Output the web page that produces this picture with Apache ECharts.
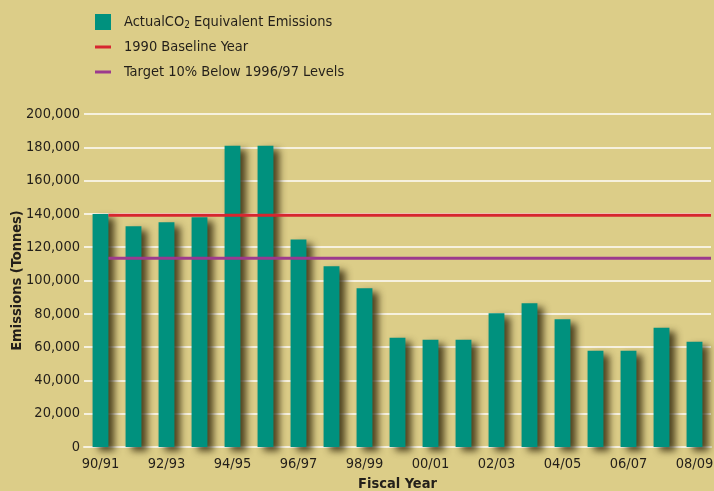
<!DOCTYPE html>
<html><head><meta charset="utf-8">
<script src="https://cdn.jsdelivr.net/npm/echarts@6/dist/echarts.min.js"></script>
<style>html,body{margin:0;padding:0;background:#dccd88}#c{width:714px;height:491px}</style>
</head><body><div id="c"></div>
<script>
const categories = ['90/91','91/92','92/93','93/94','94/95','95/96','96/97','97/98','98/99','99/00','00/01','01/02','02/03','03/04','04/05','05/06','06/07','07/08','08/09'];
const emissions = [140000,132600,135000,138000,181000,181000,124600,108600,95400,65600,64400,64400,80400,86400,76800,57800,57800,71600,63200];
const baseline1990 = 139200;
const target = 113400;
const yTicks = {min:0, max:200000, interval:20000};

const FONT = "'DejaVu Sans Condensed','Liberation Sans Narrow',sans-serif";
const FS = 14.5;
const TXT = '#231f1a';
const BAR_FRAC = 0.48;
const LINE_ICON = 'path://M0,0M0,6.5H16V9.5H0ZM16,16';
// reference lines run from the right edge of the first bar to the right edge of the plot
function refLine(v){ return [[0.5 + BAR_FRAC / 2, v], [categories.length, v]]; }
const chart = echarts.init(document.getElementById('c'));
chart.setOption({
  backgroundColor:'#dccd88',
  animation:false,
  textStyle:{fontFamily:FONT},
  grid:{left:84,right:3,top:114,bottom:44,containLabel:false,outerBoundsMode:'none'},
  legend:{
    orient:'vertical', left:95, top:14, padding:0, itemWidth:16, itemHeight:16, itemGap:9,
    data:[{name:'Actual CO2 Equivalent Emissions', icon:'rect'},
          {name:'1990 Baseline Year', icon:LINE_ICON},
          {name:'Target 10% Below 1996/97 Levels', icon:LINE_ICON}],
    formatter:function(n){ return n.indexOf('CO2')>=0 ? 'ActualCO{sub|2} Equivalent Emissions' : n; },
    textStyle:{fontFamily:FONT,fontSize:FS,color:TXT,padding:[0,0,0,8],
      rich:{sub:{fontFamily:FONT,fontSize:10,color:TXT,padding:[6,0,0,0]}}}
  },
  xAxis:[{
    type:'category', data:categories, boundaryGap:true,
    name:'Fiscal Year', nameLocation:'middle', nameGap:30, nameMoveOverlap:false,
    nameTextStyle:{fontFamily:FONT,fontWeight:'bold',fontSize:FS,color:TXT},
    axisLine:{show:true,lineStyle:{color:'#f6f1df',width:2}},
    axisTick:{show:false},
    axisLabel:{interval:1,fontFamily:FONT,fontSize:FS,color:TXT,margin:10}
  },{
    type:'value', min:0, max:categories.length, show:false, splitLine:{show:false}
  }],
  yAxis:{
    type:'value', min:yTicks.min, max:yTicks.max, interval:yTicks.interval,
    name:'Emissions (Tonnes)', nameLocation:'middle', nameGap:59, nameMoveOverlap:false,
    nameTextStyle:{fontFamily:FONT,fontWeight:'bold',fontSize:FS,color:TXT},
    axisLine:{show:false}, axisTick:{show:false},
    axisLabel:{fontFamily:FONT,fontSize:FS,color:TXT,margin:4,
      formatter:function(v){return v.toLocaleString('en-US');}},
    splitLine:{lineStyle:{color:'#f6f1df',width:2}}
  },
  series:[
    {name:'Actual CO2 Equivalent Emissions', type:'bar', data:emissions, barWidth:(BAR_FRAC*100)+'%', z:3,
      itemStyle:{color:'#00917e', shadowColor:'rgba(55,45,15,0.85)', shadowBlur:7, shadowOffsetX:6, shadowOffsetY:4}},
    {name:'1990 Baseline Year', type:'line', xAxisIndex:1, symbol:'none', data:refLine(baseline1990), z:5, silent:true,
      lineStyle:{color:'#d7262f',width:3}, itemStyle:{color:'#d7262f'}},
    {name:'Target 10% Below 1996/97 Levels', type:'line', xAxisIndex:1, symbol:'none', data:refLine(target), z:5, silent:true,
      lineStyle:{color:'#9c3a8e',width:3}, itemStyle:{color:'#9c3a8e'}}
  ]
});
</script></body></html>
